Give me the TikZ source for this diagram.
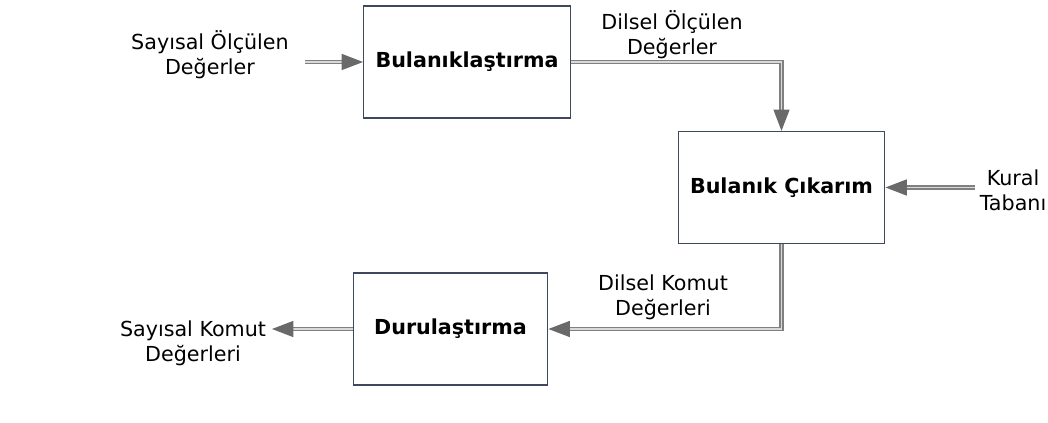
\documentclass[tikz,border=0pt]{standalone}
\usepackage{fontspec}
\setmainfont{DejaVu Sans}
\usetikzlibrary{arrows.meta}
\definecolor{boxline}{RGB}{62,73,94}
\definecolor{pipe}{RGB}{128,128,128}
\definecolor{tipgray}{RGB}{105,105,105}

\begin{document}
\begin{tikzpicture}[x=0.75pt,y=-0.75pt,
	block/.style={draw=boxline,line width=0.9pt,fill=white,minimum width=155pt,minimum height=84pt,font=\bfseries},
	lbl/.style={align=center},
	pipeline/.style={draw=pipe,line width=1pt,double=white!85!black,double distance=1.2pt,
		-{Triangle[length=16pt,width=12pt,fill=tipgray,color=tipgray]}}]
		%%%%% START %%%%%
		\useasboundingbox (0,0) rectangle (1048,423);
		\fontsize{15.5}{19}\selectfont
		
		\node[block] (fuz) at (467,62) {Bulanıklaştırma};
		\node[block] (inf) at (781.5,187.5) {Bulanık Çıkarım};
		\node[block,minimum width=146pt] (def) at (450.5,329) {Durulaştırma};
		
		\node[lbl] (inLbl) at (210,55) {Sayısal Ölçülen\\Değerler};
		\node[lbl] (midLbl) at (672,35) {Dilsel Ölçülen\\Değerler};
		\node[lbl] (kbLbl) at (1013,190) {Kural\\Tabanı};
		\node[lbl] (cmdLbl) at (663,297) {Dilsel Komut\\Değerleri};
		\node[lbl] (outLbl) at (193,343) {Sayısal Komut\\Değerleri};
		
		\coordinate (inEnd) at (305,62);
		\coordinate (kbEnd) at (975,187.5);
		\coordinate (outEnd) at (272,329);
		
		\draw[pipeline] (inEnd) -- (fuz);
		\draw[pipeline] (fuz) -| (inf);
		\draw[pipeline] (kbEnd) -- (inf);
		\draw[pipeline] (inf) |- (def);
		\draw[pipeline] (def) -- (outEnd);
		%%%%% END %%%%%
\end{tikzpicture}
\end{document}
